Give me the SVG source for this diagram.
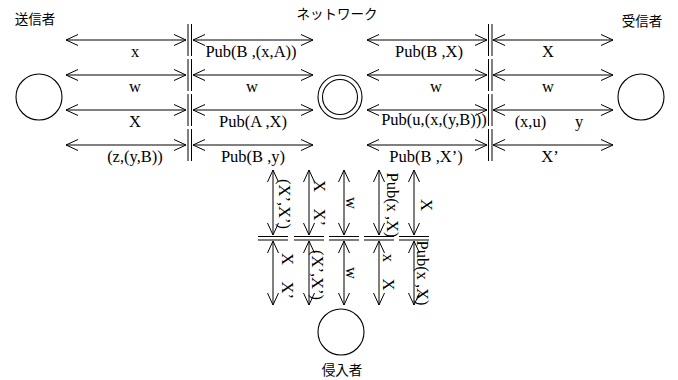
<svg xmlns="http://www.w3.org/2000/svg" width="678" height="380" viewBox="0 0 678 380">
<defs>
<marker id="ah" viewBox="0 0 12 12" refX="12" refY="6" markerWidth="12" markerHeight="12" markerUnits="userSpaceOnUse" orient="auto-start-reverse">
<path d="M0,0.5 L12,6 L0,11.5" fill="none" stroke="#000" stroke-width="1"/>
</marker>
</defs>
<style>
.c{fill:#fff;stroke:#000;stroke-width:1.1}
.a{stroke:#000;stroke-width:1;fill:none;marker-start:url(#ah);marker-end:url(#ah)}
.s{stroke:#000;stroke-width:1;fill:none}
.t{font-family:"Liberation Serif",serif;font-size:16.5px;fill:#000;text-anchor:middle;white-space:pre}
.j{font-family:"Noto Sans CJK JP",sans-serif;font-size:13.5px;fill:#000;text-anchor:middle}
</style>
<rect width="678" height="380" fill="#fff"/>

<g id="sender">
<circle class="c" cx="39" cy="97" r="23"/>
<text class="j" x="35" y="24">送信者</text>
</g>
<g id="network">
<circle class="c" cx="340" cy="97" r="22"/>
<circle class="c" cx="340" cy="97" r="17.5"/>
<text class="j" x="337" y="19">ネットワーク</text>
</g>
<g id="receiver">
<circle class="c" cx="641" cy="97" r="23"/>
<text class="j" x="642" y="26">受信者</text>
</g>
<g id="intruder">
<circle class="c" cx="341" cy="332" r="23"/>
<text class="j" x="342" y="375">侵入者</text>
</g>

<g id="connectors">
<line class="a" x1="66" y1="40" x2="186" y2="40"/>
<line class="a" x1="193" y1="40" x2="313" y2="40"/>
<line class="a" x1="367" y1="40" x2="487" y2="40"/>
<line class="a" x1="493" y1="40" x2="613" y2="40"/>
<line class="a" x1="66" y1="75" x2="186" y2="75"/>
<line class="a" x1="193" y1="75" x2="313" y2="75"/>
<line class="a" x1="367" y1="75" x2="487" y2="75"/>
<line class="a" x1="493" y1="75" x2="613" y2="75"/>
<line class="a" x1="66" y1="110" x2="186" y2="110"/>
<line class="a" x1="193" y1="110" x2="313" y2="110"/>
<line class="a" x1="367" y1="110" x2="487" y2="110"/>
<line class="a" x1="493" y1="110" x2="613" y2="110"/>
<line class="a" x1="66" y1="145" x2="186" y2="145"/>
<line class="a" x1="193" y1="145" x2="313" y2="145"/>
<line class="a" x1="367" y1="145" x2="487" y2="145"/>
<line class="a" x1="493" y1="145" x2="613" y2="145"/>
<path class="s" d="M188,24V56M191.5,24V56M188,59V91M191.5,59V91M188,94V126M191.5,94V126M188,129V161M191.5,129V161"/>
<path class="s" d="M488.5,24V56M492,24V56M488.5,59V91M492,59V91M488.5,94V126M492,94V126M488.5,129V161M492,129V161"/>
<line class="a" x1="273" y1="170" x2="273" y2="235"/>
<line class="a" x1="309" y1="170" x2="309" y2="235"/>
<line class="a" x1="344" y1="170" x2="344" y2="235"/>
<line class="a" x1="379" y1="170" x2="379" y2="235"/>
<line class="a" x1="414" y1="170" x2="414" y2="235"/>
<line class="a" x1="273" y1="241" x2="273" y2="305"/>
<line class="a" x1="309" y1="241" x2="309" y2="305"/>
<line class="a" x1="344" y1="241" x2="344" y2="305"/>
<line class="a" x1="379" y1="241" x2="379" y2="305"/>
<line class="a" x1="414" y1="241" x2="414" y2="305"/>
<path class="s" d="M258,236.5H288M258,240H288M294,236.5H324M294,240H324M329,236.5H359M329,240H359M364,236.5H394M364,240H394M399,236.5H429M399,240H429"/>

<text class="t" x="135" y="57">x</text>
<text class="t" x="251" y="57">Pub(B ,(x,A))</text>
<text class="t" x="429" y="57">Pub(B ,X)</text>
<text class="t" x="548" y="57">X</text>
<text class="t" x="135" y="92">w</text>
<text class="t" x="252" y="92">w</text>
<text class="t" x="436" y="92">w</text>
<text class="t" x="548" y="92">w</text>
<text class="t" x="135" y="127">X</text>
<text class="t" x="253" y="127">Pub(A ,X)</text>
<text class="t" x="434" y="125">Pub(u,(x,(y,B)))</text>
<text class="t" x="549" y="127">(x,u)       y</text>
<text class="t" x="135" y="162">(z,(y,B))</text>
<text class="t" x="253" y="162">Pub(B ,y)</text>
<text class="t" x="426" y="162">Pub(B ,X’)</text>
<text class="t" x="550" y="162">X’</text>

<text class="t" transform="translate(285,204) rotate(90)" dy="0.35em">(X’,X’)</text>
<text class="t" transform="translate(320,203) rotate(90)" dy="0.35em">X    X’</text>
<text class="t" transform="translate(352,203) rotate(90)" dy="0.35em">w</text>
<text class="t" transform="translate(393,205) rotate(90)" dy="0.35em">Pub(x ,X)</text>
<text class="t" transform="translate(427,205) rotate(90)" dy="0.35em">X</text>
<text class="t" transform="translate(288,276) rotate(90)" dy="0.35em">X    X’</text>
<text class="t" transform="translate(318,275) rotate(90)" dy="0.35em">(X’,X’)</text>
<text class="t" transform="translate(352,273) rotate(90)" dy="0.35em">w</text>
<text class="t" transform="translate(389,272) rotate(90)" dy="0.35em">x    X</text>
<text class="t" transform="translate(423,273) rotate(90)" dy="0.35em">Pub(x ,X)</text>
</g>
</svg>
